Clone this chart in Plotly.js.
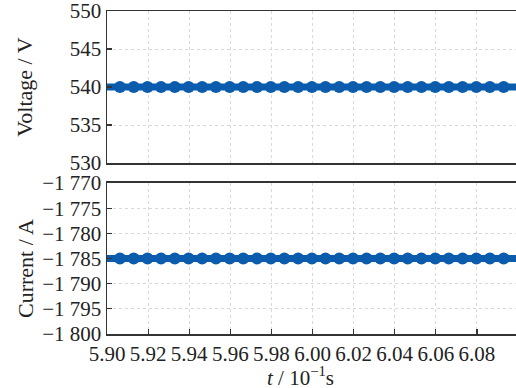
<!DOCTYPE html>
<html>
<head>
<meta charset="utf-8">
<script src="https://cdn.plot.ly/plotly-3.0.1.min.js"></script>
<style>html,body{margin:0;padding:0;background:#fff;}#chart{width:516px;height:388px;}</style>
</head>
<body>
<div id="chart"></div>
<script>
// time axis in units of 10^-1 s
const tSpan = [5.90, 6.10];
const voltageSpan = [540, 540];
const currentSpan = [-1785, -1785];
// ripple peaks (blobs) positions
const tPeaks = [5.9063, 5.9130, 5.9197, 5.9263, 5.9330, 5.9397, 5.9463, 5.9530, 5.9597, 5.9663,
  5.9730, 5.9797, 5.9863, 5.9930, 5.9997, 6.0063, 6.0130, 6.0197, 6.0263, 6.0330,
  6.0397, 6.0463, 6.0530, 6.0597, 6.0663, 6.0730, 6.0797, 6.0863, 6.0930];
const voltagePeaks = [540, 540, 540, 540, 540, 540, 540, 540, 540, 540,
  540, 540, 540, 540, 540, 540, 540, 540, 540, 540,
  540, 540, 540, 540, 540, 540, 540, 540, 540];
const currentPeaks = [-1785, -1785, -1785, -1785, -1785, -1785, -1785, -1785, -1785, -1785,
  -1785, -1785, -1785, -1785, -1785, -1785, -1785, -1785, -1785, -1785,
  -1785, -1785, -1785, -1785, -1785, -1785, -1785, -1785, -1785];

const xTickVals = [5.90, 5.92, 5.94, 5.96, 5.98, 6.00, 6.02, 6.04, 6.06, 6.08];
const xTickText = ['5.90', '5.92', '5.94', '5.96', '5.98', '6.00', '6.02', '6.04', '6.06', '6.08'];
const vTickVals = [530, 535, 540, 545, 550];
const vTickText = ['530', '535', '540', '545', '550'];
const iTickVals = [-1800, -1795, -1790, -1785, -1780, -1775, -1770];
const iTickText = ['\u22121 800', '\u22121 795', '\u22121 790', '\u22121 785', '\u22121 780', '\u22121 775', '\u22121 770'];

const blue = '#0b5cad';
const family = 'Liberation Serif, Times New Roman, serif';
const font = {family: family, size: 21, color: '#222'};
const titleFont = {family: family, size: 22, color: '#222'};
const xTitleFont = {family: family, size: 21, color: '#222'};
const axisColor = '#333';
const gridColor = '#d9d9d9';

const traces = [
  {x: tSpan, y: voltageSpan, xaxis: 'x', yaxis: 'y', mode: 'lines', line: {color: blue, width: 7}, hoverinfo: 'skip'},
  {x: tPeaks, y: voltagePeaks, xaxis: 'x', yaxis: 'y', mode: 'markers', marker: {color: blue, size: 12, symbol: 'circle'}, hoverinfo: 'skip'},
  {x: tSpan, y: currentSpan, xaxis: 'x2', yaxis: 'y2', mode: 'lines', line: {color: blue, width: 7}, hoverinfo: 'skip'},
  {x: tPeaks, y: currentPeaks, xaxis: 'x2', yaxis: 'y2', mode: 'markers', marker: {color: blue, size: 12, symbol: 'circle'}, hoverinfo: 'skip'}
];

const xCommon = {
  range: [5.90, 6.099], tickvals: xTickVals, ticktext: xTickText,
  showline: true, linecolor: axisColor, linewidth: 1.5, mirror: true,
  showgrid: true, gridcolor: gridColor, griddash: 'dot', gridwidth: 1,
  zeroline: false, tickfont: font, ticklabeloverflow: 'allow'
};

const yCommon = {
  showline: true, linecolor: axisColor, linewidth: 1.5, mirror: false,
  ticks: 'inside', ticklen: 5, tickcolor: axisColor, tickwidth: 1.2,
  showgrid: true, gridcolor: gridColor, griddash: 'dot', gridwidth: 1,
  zeroline: false, tickfont: font, ticklabeloverflow: 'allow'
};

const layout = {
  width: 516, height: 388,
  margin: {l: 107, r: 0, t: 11, b: 54},
  paper_bgcolor: '#fff', plot_bgcolor: '#fff',
  showlegend: false,
  font: font,
  xaxis: Object.assign({}, xCommon, {anchor: 'y', domain: [0, 1], showticklabels: false, ticks: ''}),
  yaxis: Object.assign({}, yCommon, {anchor: 'x', domain: [0.5294, 1], range: [530, 550],
    tickvals: vTickVals, ticktext: vTickText}),
  xaxis2: Object.assign({}, xCommon, {anchor: 'y2', domain: [0, 1], ticks: 'inside', ticklen: 5, tickcolor: axisColor, tickwidth: 1.2}),
  yaxis2: Object.assign({}, yCommon, {anchor: 'x2', domain: [0, 0.4675], range: [-1800, -1770],
    tickvals: iTickVals, ticktext: iTickText}),
  annotations: [
    {text: 'Voltage / V', xref: 'paper', yref: 'paper', x: -0.2005, y: 0.7656, textangle: -90,
     showarrow: false, xanchor: 'center', yanchor: 'middle', font: titleFont},
    {text: 'Current / A', xref: 'paper', yref: 'paper', x: -0.2005, y: 0.2043, textangle: -90,
     showarrow: false, xanchor: 'center', yanchor: 'middle', font: titleFont},
    {text: '<i>t</i> / 10<sup>\u22121</sup>s', xref: 'paper', yref: 'paper', x: 0.4735, y: -0.131,
     showarrow: false, xanchor: 'center', yanchor: 'middle', font: xTitleFont}
  ]
};

Plotly.newPlot('chart', traces, layout, {staticPlot: true, displayModeBar: false});
</script>
</body>
</html>
